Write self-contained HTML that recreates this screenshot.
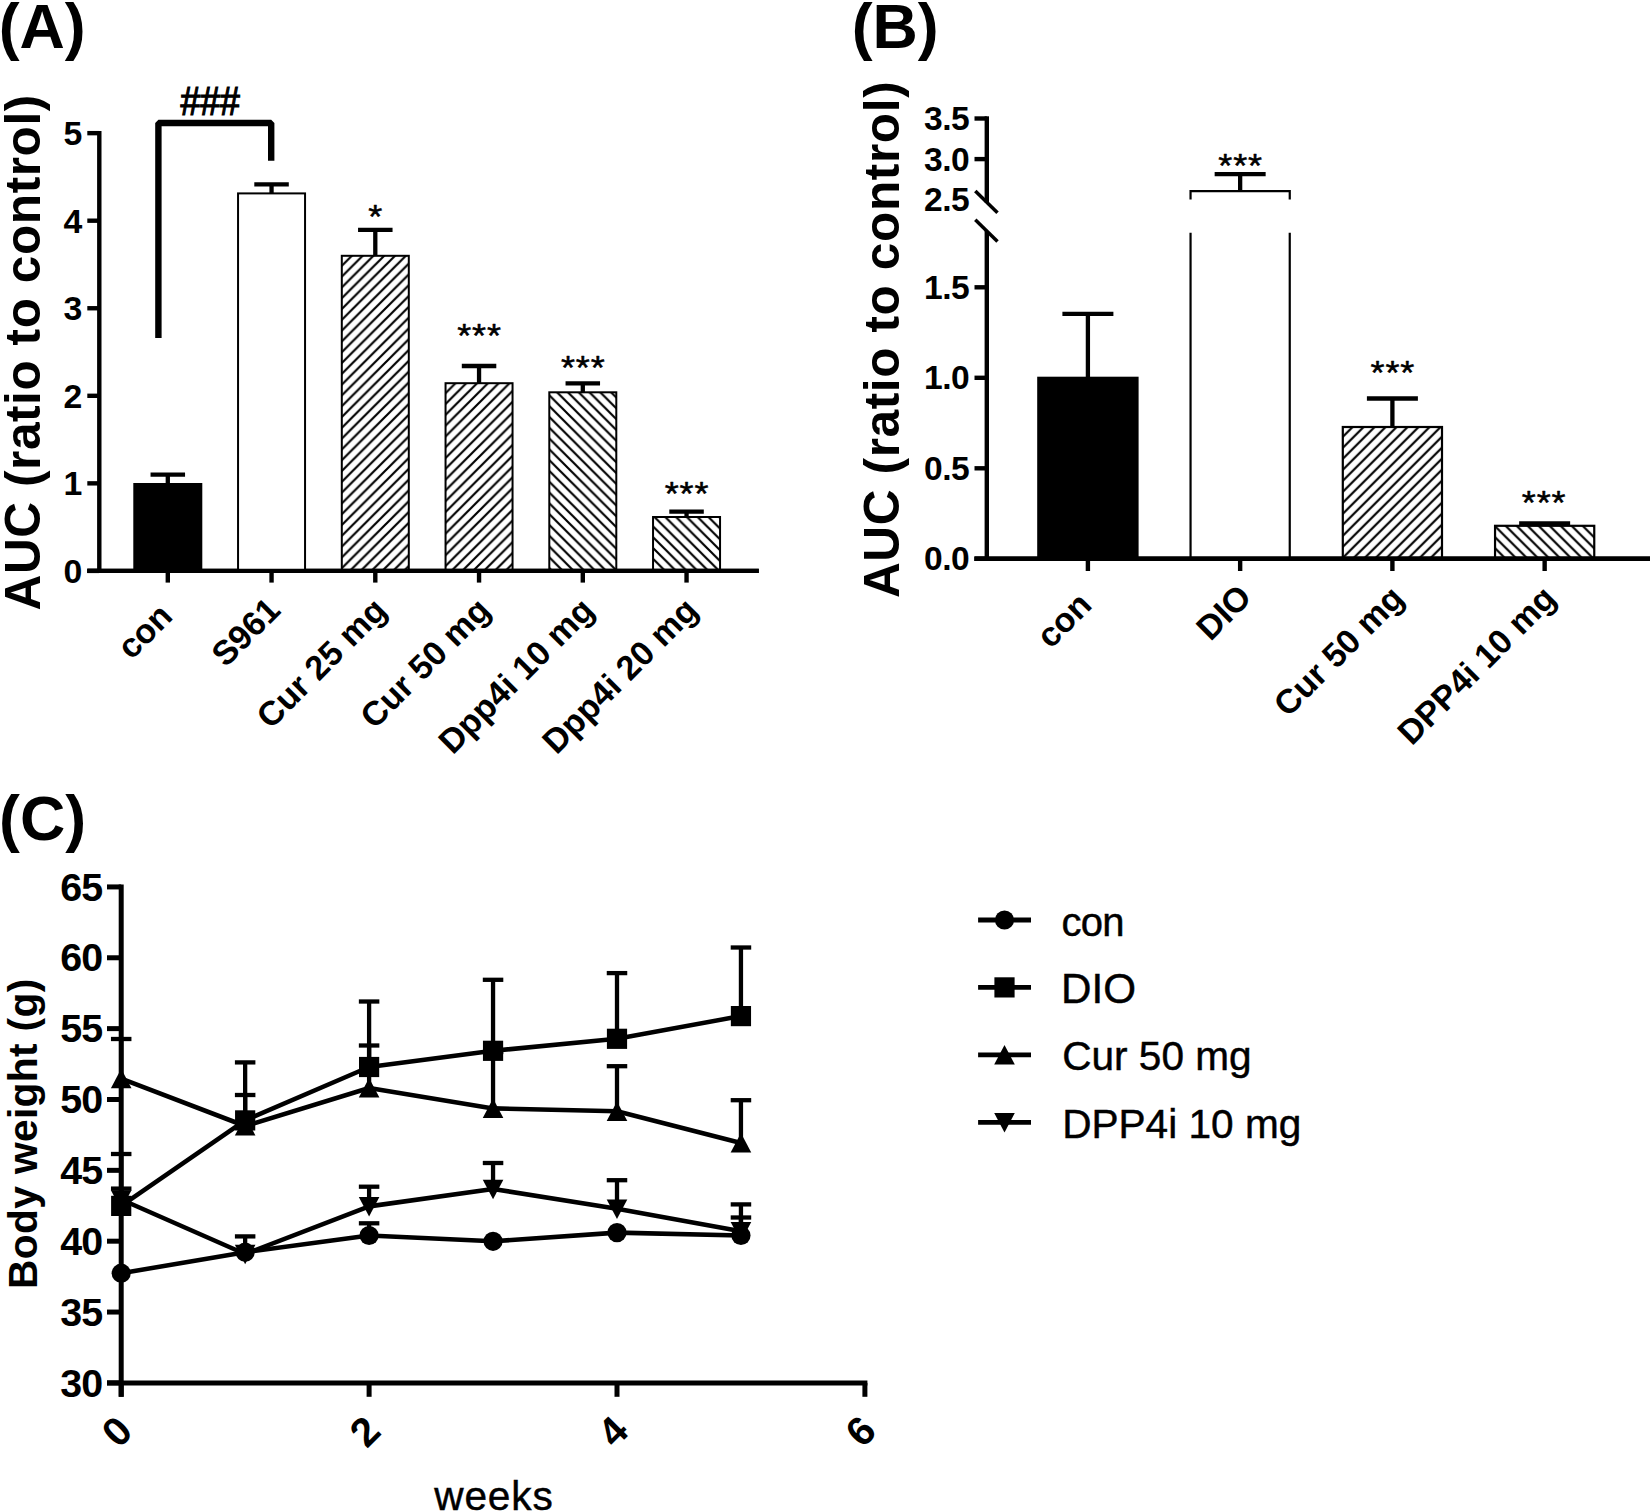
<!DOCTYPE html>
<html lang="en"><head><meta charset="utf-8"><title>Figure</title>
<style>html,body{margin:0;padding:0;background:#fff}svg{display:block}text{font-family:"Liberation Sans",sans-serif;fill:#000}.b{font-weight:bold}</style></head><body>
<svg width="1650" height="1512" viewBox="0 0 1650 1512">
<rect x="0" y="0" width="1650" height="1512" fill="#fff"/>
<text x="-1.30" y="47.90" font-size="62.7" text-anchor="start" class="b" >(A)</text>
<text x="851.70" y="47.90" font-size="62.7" text-anchor="start" class="b" >(B)</text>
<text x="-1.00" y="840.00" font-size="62.7" text-anchor="start" class="b" >(C)</text>
<text x="39.70" y="610.40" font-size="49.6" text-anchor="start" class="b" transform="rotate(-90 39.70 610.40)" letter-spacing="0.55">AUC (ratio to control)</text>
<line x1="99.30" y1="130.95" x2="99.30" y2="573.10" stroke="#000" stroke-width="4.4" />
<line x1="87.30" y1="570.90" x2="758.80" y2="570.90" stroke="#000" stroke-width="4.4" />
<line x1="87.30" y1="570.90" x2="99.30" y2="570.90" stroke="#000" stroke-width="4.4" />
<text x="82.30" y="582.70" font-size="33.8" text-anchor="end" class="b" >0</text>
<line x1="87.30" y1="483.35" x2="99.30" y2="483.35" stroke="#000" stroke-width="4.4" />
<text x="82.30" y="495.15" font-size="33.8" text-anchor="end" class="b" >1</text>
<line x1="87.30" y1="395.80" x2="99.30" y2="395.80" stroke="#000" stroke-width="4.4" />
<text x="82.30" y="407.60" font-size="33.8" text-anchor="end" class="b" >2</text>
<line x1="87.30" y1="308.25" x2="99.30" y2="308.25" stroke="#000" stroke-width="4.4" />
<text x="82.30" y="320.05" font-size="33.8" text-anchor="end" class="b" >3</text>
<line x1="87.30" y1="220.70" x2="99.30" y2="220.70" stroke="#000" stroke-width="4.4" />
<text x="82.30" y="232.50" font-size="33.8" text-anchor="end" class="b" >4</text>
<line x1="87.30" y1="133.15" x2="99.30" y2="133.15" stroke="#000" stroke-width="4.4" />
<text x="82.30" y="144.95" font-size="33.8" text-anchor="end" class="b" >5</text>
<line x1="167.80" y1="474.60" x2="167.80" y2="484.00" stroke="#000" stroke-width="4.3" />
<line x1="150.55" y1="474.60" x2="185.05" y2="474.60" stroke="#000" stroke-width="4.3" />
<rect x="134.30" y="484.00" width="67.00" height="86.90" fill="#000" stroke="#000" stroke-width="2.0"/>
<line x1="167.80" y1="570.90" x2="167.80" y2="582.60" stroke="#000" stroke-width="4.4" />
<line x1="271.55" y1="184.30" x2="271.55" y2="193.40" stroke="#000" stroke-width="4.3" />
<line x1="254.30" y1="184.30" x2="288.80" y2="184.30" stroke="#000" stroke-width="4.3" />
<rect x="238.05" y="193.40" width="67.00" height="377.50" fill="#fff" stroke="#000" stroke-width="2.0"/>
<line x1="271.55" y1="570.90" x2="271.55" y2="582.60" stroke="#000" stroke-width="4.4" />
<line x1="375.30" y1="229.90" x2="375.30" y2="255.80" stroke="#000" stroke-width="4.3" />
<line x1="358.05" y1="229.90" x2="392.55" y2="229.90" stroke="#000" stroke-width="4.3" />
<defs><pattern id="h1" patternUnits="userSpaceOnUse" width="10.8" height="10.8" x="342.80" y="264.80"><path d="M-5.4,5.4 L5.4,-5.4 M0,10.8 L10.8,0 M5.4,16.200000000000003 L16.200000000000003,5.4" stroke="#000" stroke-width="2.15" fill="none"/></pattern></defs>
<rect x="341.80" y="255.80" width="67.00" height="315.10" fill="url(#h1)" stroke="#000" stroke-width="2.0"/>
<line x1="375.30" y1="570.90" x2="375.30" y2="582.60" stroke="#000" stroke-width="4.4" />
<line x1="479.05" y1="366.00" x2="479.05" y2="383.20" stroke="#000" stroke-width="4.3" />
<line x1="461.80" y1="366.00" x2="496.30" y2="366.00" stroke="#000" stroke-width="4.3" />
<defs><pattern id="h2" patternUnits="userSpaceOnUse" width="10.8" height="10.8" x="446.55" y="392.20"><path d="M-5.4,5.4 L5.4,-5.4 M0,10.8 L10.8,0 M5.4,16.200000000000003 L16.200000000000003,5.4" stroke="#000" stroke-width="2.15" fill="none"/></pattern></defs>
<rect x="445.55" y="383.20" width="67.00" height="187.70" fill="url(#h2)" stroke="#000" stroke-width="2.0"/>
<line x1="479.05" y1="570.90" x2="479.05" y2="582.60" stroke="#000" stroke-width="4.4" />
<line x1="582.80" y1="383.30" x2="582.80" y2="392.30" stroke="#000" stroke-width="4.3" />
<line x1="565.55" y1="383.30" x2="600.05" y2="383.30" stroke="#000" stroke-width="4.3" />
<defs><pattern id="h3" patternUnits="userSpaceOnUse" width="10.8" height="10.8" x="550.30" y="396.30"><path d="M-5.4,5.4 L5.4,16.200000000000003 M0,0 L10.8,10.8 M5.4,-5.4 L16.200000000000003,5.4" stroke="#000" stroke-width="2.15" fill="none"/></pattern></defs>
<rect x="549.30" y="392.30" width="67.00" height="178.60" fill="url(#h3)" stroke="#000" stroke-width="2.0"/>
<line x1="582.80" y1="570.90" x2="582.80" y2="582.60" stroke="#000" stroke-width="4.4" />
<line x1="686.55" y1="511.70" x2="686.55" y2="517.00" stroke="#000" stroke-width="4.3" />
<line x1="669.30" y1="511.70" x2="703.80" y2="511.70" stroke="#000" stroke-width="4.3" />
<defs><pattern id="h4" patternUnits="userSpaceOnUse" width="10.8" height="10.8" x="654.05" y="527.40"><path d="M-5.4,5.4 L5.4,16.200000000000003 M0,0 L10.8,10.8 M5.4,-5.4 L16.200000000000003,5.4" stroke="#000" stroke-width="2.15" fill="none"/></pattern></defs>
<rect x="653.05" y="517.00" width="67.00" height="53.90" fill="url(#h4)" stroke="#000" stroke-width="2.0"/>
<line x1="686.55" y1="570.90" x2="686.55" y2="582.60" stroke="#000" stroke-width="4.4" />
<line x1="87.30" y1="570.90" x2="758.80" y2="570.90" stroke="#000" stroke-width="4.4" />
<text x="0" y="0" font-size="36" text-anchor="middle" transform="translate(375.30 228.30) scale(1 0.9)" stroke="#000" stroke-width="0.55" stroke-linejoin="round">*</text>
<text x="0" y="0" font-size="36" text-anchor="middle" transform="translate(479.55 346.60) scale(1 0.9)" letter-spacing="0.9" stroke="#000" stroke-width="0.55" stroke-linejoin="round">***</text>
<text x="0" y="0" font-size="36" text-anchor="middle" transform="translate(583.30 379.20) scale(1 0.9)" letter-spacing="0.9" stroke="#000" stroke-width="0.55" stroke-linejoin="round">***</text>
<text x="0" y="0" font-size="36" text-anchor="middle" transform="translate(687.05 505.00) scale(1 0.9)" letter-spacing="0.9" stroke="#000" stroke-width="0.55" stroke-linejoin="round">***</text>
<path d="M158.4,338 L158.4,123 L271.2,123 L271.2,160.7" fill="none" stroke="#000" stroke-width="6.4" stroke-linejoin="bevel"/>
<text x="0" y="0" font-size="35.6" text-anchor="middle" transform="translate(210.20 115.30) scale(1 1.12)" stroke="#000" stroke-width="1.1">###</text>
<text x="174.30" y="618.00" font-size="34.1" text-anchor="end" class="b" transform="rotate(-45 174.30 618.00)" id="la0">con</text>
<text x="282.05" y="612.00" font-size="34.1" text-anchor="end" class="b" transform="rotate(-45 282.05 612.00)" id="la1">S961</text>
<text x="388.50" y="612.30" font-size="34.1" text-anchor="end" class="b" transform="rotate(-45 388.50 612.30)" id="la2">Cur 25 mg</text>
<text x="492.25" y="612.30" font-size="34.1" text-anchor="end" class="b" transform="rotate(-45 492.25 612.30)" id="la3">Cur 50 mg</text>
<text x="596.00" y="612.30" font-size="34.1" text-anchor="end" class="b" transform="rotate(-45 596.00 612.30)" id="la4">Dpp4i 10 mg</text>
<text x="699.75" y="612.30" font-size="34.1" text-anchor="end" class="b" transform="rotate(-45 699.75 612.30)" id="la5">Dpp4i 20 mg</text>
<text x="899.30" y="598.10" font-size="49.6" text-anchor="start" class="b" transform="rotate(-90 899.30 598.10)" letter-spacing="0.6">AUC (ratio to control)</text>
<line x1="986.80" y1="231.00" x2="986.80" y2="561.00" stroke="#000" stroke-width="4.4" />
<line x1="986.80" y1="116.30" x2="986.80" y2="202.40" stroke="#000" stroke-width="4.4" />
<line x1="975.30" y1="191.00" x2="997.50" y2="212.70" stroke="#000" stroke-width="3.5" />
<line x1="975.30" y1="219.80" x2="997.50" y2="241.50" stroke="#000" stroke-width="3.5" />
<line x1="974.50" y1="558.80" x2="1650.00" y2="558.80" stroke="#000" stroke-width="4.4" />
<line x1="974.50" y1="558.80" x2="986.80" y2="558.80" stroke="#000" stroke-width="4.4" />
<text x="969.40" y="570.20" font-size="33.6" text-anchor="end" class="b" letter-spacing="-0.4">0.0</text>
<line x1="974.50" y1="468.30" x2="986.80" y2="468.30" stroke="#000" stroke-width="4.4" />
<text x="969.40" y="479.70" font-size="33.6" text-anchor="end" class="b" letter-spacing="-0.4">0.5</text>
<line x1="974.50" y1="377.80" x2="986.80" y2="377.80" stroke="#000" stroke-width="4.4" />
<text x="969.40" y="389.20" font-size="33.6" text-anchor="end" class="b" letter-spacing="-0.4">1.0</text>
<line x1="974.50" y1="287.30" x2="986.80" y2="287.30" stroke="#000" stroke-width="4.4" />
<text x="969.40" y="298.70" font-size="33.6" text-anchor="end" class="b" letter-spacing="-0.4">1.5</text>
<text x="969.40" y="211.10" font-size="33.6" text-anchor="end" class="b" letter-spacing="-0.4">2.5</text>
<line x1="974.50" y1="159.10" x2="986.80" y2="159.10" stroke="#000" stroke-width="4.4" />
<text x="969.40" y="170.50" font-size="33.6" text-anchor="end" class="b" letter-spacing="-0.4">3.0</text>
<line x1="974.50" y1="118.50" x2="986.80" y2="118.50" stroke="#000" stroke-width="4.4" />
<text x="969.40" y="129.90" font-size="33.6" text-anchor="end" class="b" letter-spacing="-0.4">3.5</text>
<line x1="1087.90" y1="313.90" x2="1087.90" y2="378.00" stroke="#000" stroke-width="4.3" />
<line x1="1062.40" y1="313.90" x2="1113.40" y2="313.90" stroke="#000" stroke-width="4.3" />
<rect x="1038.30" y="377.80" width="99.20" height="181.00" fill="#000" stroke="#000" stroke-width="2.2"/>
<line x1="1240.15" y1="174.20" x2="1240.15" y2="191.00" stroke="#000" stroke-width="4.3" />
<line x1="1214.65" y1="174.20" x2="1265.65" y2="174.20" stroke="#000" stroke-width="4.3" />
<path d="M1190.55,199.6 V191.2 H1289.75 V199.6" fill="none" stroke="#000" stroke-width="2.2"/>
<line x1="1190.55" y1="232.70" x2="1190.55" y2="558.80" stroke="#000" stroke-width="2.2" />
<line x1="1289.75" y1="232.70" x2="1289.75" y2="558.80" stroke="#000" stroke-width="2.2" />
<line x1="1392.40" y1="398.50" x2="1392.40" y2="427.00" stroke="#000" stroke-width="4.3" />
<line x1="1366.90" y1="398.50" x2="1417.90" y2="398.50" stroke="#000" stroke-width="4.3" />
<defs><pattern id="h5" patternUnits="userSpaceOnUse" width="11.0" height="11.0" x="1343.90" y="435.70"><path d="M-5.5,5.5 L5.5,-5.5 M0,11.0 L11.0,0 M5.5,16.5 L16.5,5.5" stroke="#000" stroke-width="2.15" fill="none"/></pattern></defs>
<rect x="1342.80" y="427.00" width="99.20" height="131.80" fill="url(#h5)" stroke="#000" stroke-width="2.2"/>
<line x1="1544.65" y1="523.40" x2="1544.65" y2="526.00" stroke="#000" stroke-width="4.3" />
<line x1="1519.15" y1="523.40" x2="1570.15" y2="523.40" stroke="#000" stroke-width="4.3" />
<defs><pattern id="h6" patternUnits="userSpaceOnUse" width="11.0" height="11.0" x="1496.15" y="527.30"><path d="M-5.5,5.5 L5.5,16.5 M0,0 L11.0,11.0 M5.5,-5.5 L16.5,5.5" stroke="#000" stroke-width="2.15" fill="none"/></pattern></defs>
<rect x="1495.05" y="525.80" width="99.20" height="33.00" fill="url(#h6)" stroke="#000" stroke-width="2.2"/>
<line x1="1087.90" y1="558.80" x2="1087.90" y2="571.00" stroke="#000" stroke-width="4.4" />
<line x1="1240.15" y1="558.80" x2="1240.15" y2="571.00" stroke="#000" stroke-width="4.4" />
<line x1="1392.40" y1="558.80" x2="1392.40" y2="571.00" stroke="#000" stroke-width="4.4" />
<line x1="1544.65" y1="558.80" x2="1544.65" y2="571.00" stroke="#000" stroke-width="4.4" />
<line x1="974.50" y1="558.80" x2="1650.00" y2="558.80" stroke="#000" stroke-width="4.4" />
<text x="0" y="0" font-size="36" text-anchor="middle" transform="translate(1240.65 177.00) scale(1 0.9)" letter-spacing="0.9" stroke="#000" stroke-width="0.55" stroke-linejoin="round">***</text>
<text x="0" y="0" font-size="36" text-anchor="middle" transform="translate(1392.90 384.40) scale(1 0.9)" letter-spacing="0.9" stroke="#000" stroke-width="0.55" stroke-linejoin="round">***</text>
<text x="0" y="0" font-size="36" text-anchor="middle" transform="translate(1544.15 514.30) scale(1 0.9)" letter-spacing="0.9" stroke="#000" stroke-width="0.55" stroke-linejoin="round">***</text>
<text x="1093.50" y="606.90" font-size="34.1" text-anchor="end" class="b" transform="rotate(-45 1093.50 606.90)" id="lb0">con</text>
<text x="1253.35" y="599.10" font-size="34.1" text-anchor="end" class="b" transform="rotate(-45 1253.35 599.10)" id="lb1">DIO</text>
<text x="1405.80" y="600.40" font-size="34.1" text-anchor="end" class="b" transform="rotate(-45 1405.80 600.40)" id="lb2">Cur 50 mg</text>
<text x="1557.85" y="600.40" font-size="34.1" text-anchor="end" class="b" transform="rotate(-45 1557.85 600.40)" id="lb3">DPP4i 10 mg</text>
<text x="36.70" y="1288.90" font-size="40.8" text-anchor="start" class="b" transform="rotate(-90 36.70 1288.90)" letter-spacing="0.3">Body weight (g)</text>
<line x1="121.20" y1="884.40" x2="121.20" y2="1396.80" stroke="#000" stroke-width="5.0" />
<line x1="107.00" y1="1382.90" x2="867.40" y2="1382.90" stroke="#000" stroke-width="5.0" />
<line x1="107.00" y1="1382.90" x2="121.20" y2="1382.90" stroke="#000" stroke-width="5.0" />
<text x="102.40" y="1396.50" font-size="39.4" text-anchor="end" class="b" letter-spacing="-0.8">30</text>
<line x1="107.00" y1="1312.05" x2="121.20" y2="1312.05" stroke="#000" stroke-width="5.0" />
<text x="102.40" y="1325.64" font-size="39.4" text-anchor="end" class="b" letter-spacing="-0.8">35</text>
<line x1="107.00" y1="1241.19" x2="121.20" y2="1241.19" stroke="#000" stroke-width="5.0" />
<text x="102.40" y="1254.79" font-size="39.4" text-anchor="end" class="b" letter-spacing="-0.8">40</text>
<line x1="107.00" y1="1170.34" x2="121.20" y2="1170.34" stroke="#000" stroke-width="5.0" />
<text x="102.40" y="1183.93" font-size="39.4" text-anchor="end" class="b" letter-spacing="-0.8">45</text>
<line x1="107.00" y1="1099.48" x2="121.20" y2="1099.48" stroke="#000" stroke-width="5.0" />
<text x="102.40" y="1113.08" font-size="39.4" text-anchor="end" class="b" letter-spacing="-0.8">50</text>
<line x1="107.00" y1="1028.62" x2="121.20" y2="1028.62" stroke="#000" stroke-width="5.0" />
<text x="102.40" y="1042.22" font-size="39.4" text-anchor="end" class="b" letter-spacing="-0.8">55</text>
<line x1="107.00" y1="957.77" x2="121.20" y2="957.77" stroke="#000" stroke-width="5.0" />
<text x="102.40" y="971.37" font-size="39.4" text-anchor="end" class="b" letter-spacing="-0.8">60</text>
<line x1="107.00" y1="886.92" x2="121.20" y2="886.92" stroke="#000" stroke-width="5.0" />
<text x="102.40" y="900.52" font-size="39.4" text-anchor="end" class="b" letter-spacing="-0.8">65</text>
<line x1="121.20" y1="1382.90" x2="121.20" y2="1396.80" stroke="#000" stroke-width="5.0" />
<text x="134.80" y="1433.20" font-size="40.5" text-anchor="end" class="b" transform="rotate(-45 134.80 1433.20)" id="lc0">0</text>
<line x1="369.10" y1="1382.90" x2="369.10" y2="1396.80" stroke="#000" stroke-width="5.0" />
<text x="382.70" y="1433.20" font-size="40.5" text-anchor="end" class="b" transform="rotate(-45 382.70 1433.20)" id="lc1">2</text>
<line x1="617.00" y1="1382.90" x2="617.00" y2="1396.80" stroke="#000" stroke-width="5.0" />
<text x="630.60" y="1433.20" font-size="40.5" text-anchor="end" class="b" transform="rotate(-45 630.60 1433.20)" id="lc2">4</text>
<line x1="864.90" y1="1382.90" x2="864.90" y2="1396.80" stroke="#000" stroke-width="5.0" />
<text x="878.50" y="1433.20" font-size="40.5" text-anchor="end" class="b" transform="rotate(-45 878.50 1433.20)" id="lc3">6</text>
<text x="434.30" y="1509.60" font-size="40.6" text-anchor="start" letter-spacing="0.85" stroke="#000" stroke-width="0.45">weeks</text>
<line x1="245.15" y1="1236.40" x2="245.15" y2="1252.20" stroke="#000" stroke-width="4.3" />
<line x1="234.90" y1="1236.40" x2="255.40" y2="1236.40" stroke="#000" stroke-width="4.3" />
<line x1="369.10" y1="1223.30" x2="369.10" y2="1235.50" stroke="#000" stroke-width="4.3" />
<line x1="358.85" y1="1223.30" x2="379.35" y2="1223.30" stroke="#000" stroke-width="4.3" />
<line x1="740.95" y1="1217.50" x2="740.95" y2="1235.50" stroke="#000" stroke-width="4.3" />
<line x1="730.70" y1="1217.50" x2="751.20" y2="1217.50" stroke="#000" stroke-width="4.3" />
<polyline points="121.20,1273.20 245.15,1252.20 369.10,1235.50 493.05,1241.30 617.00,1232.60 740.95,1235.50" fill="none" stroke="#000" stroke-width="4.6" stroke-linejoin="round"/>
<circle cx="121.20" cy="1273.20" r="9.6" fill="#000"/>
<circle cx="245.15" cy="1252.20" r="9.6" fill="#000"/>
<circle cx="369.10" cy="1235.50" r="9.6" fill="#000"/>
<circle cx="493.05" cy="1241.30" r="9.6" fill="#000"/>
<circle cx="617.00" cy="1232.60" r="9.6" fill="#000"/>
<circle cx="740.95" cy="1235.50" r="9.6" fill="#000"/>
<line x1="121.20" y1="1154.00" x2="121.20" y2="1205.90" stroke="#000" stroke-width="4.3" />
<line x1="110.95" y1="1154.00" x2="131.45" y2="1154.00" stroke="#000" stroke-width="4.3" />
<line x1="245.15" y1="1062.40" x2="245.15" y2="1120.40" stroke="#000" stroke-width="4.3" />
<line x1="234.90" y1="1062.40" x2="255.40" y2="1062.40" stroke="#000" stroke-width="4.3" />
<line x1="369.10" y1="1001.50" x2="369.10" y2="1067.00" stroke="#000" stroke-width="4.3" />
<line x1="358.85" y1="1001.50" x2="379.35" y2="1001.50" stroke="#000" stroke-width="4.3" />
<line x1="493.05" y1="979.80" x2="493.05" y2="1050.80" stroke="#000" stroke-width="4.3" />
<line x1="482.80" y1="979.80" x2="503.30" y2="979.80" stroke="#000" stroke-width="4.3" />
<line x1="617.00" y1="973.10" x2="617.00" y2="1038.80" stroke="#000" stroke-width="4.3" />
<line x1="606.75" y1="973.10" x2="627.25" y2="973.10" stroke="#000" stroke-width="4.3" />
<line x1="740.95" y1="947.50" x2="740.95" y2="1016.10" stroke="#000" stroke-width="4.3" />
<line x1="730.70" y1="947.50" x2="751.20" y2="947.50" stroke="#000" stroke-width="4.3" />
<polyline points="121.20,1205.90 245.15,1120.40 369.10,1067.00 493.05,1050.80 617.00,1038.80 740.95,1016.10" fill="none" stroke="#000" stroke-width="4.6" stroke-linejoin="round"/>
<rect x="111.10" y="1195.80" width="20.2" height="20.2" fill="#000"/>
<rect x="235.05" y="1110.30" width="20.2" height="20.2" fill="#000"/>
<rect x="359.00" y="1056.90" width="20.2" height="20.2" fill="#000"/>
<rect x="482.95" y="1040.70" width="20.2" height="20.2" fill="#000"/>
<rect x="606.90" y="1028.70" width="20.2" height="20.2" fill="#000"/>
<rect x="730.85" y="1006.00" width="20.2" height="20.2" fill="#000"/>
<line x1="121.20" y1="1039.00" x2="121.20" y2="1078.60" stroke="#000" stroke-width="4.3" />
<line x1="110.95" y1="1039.00" x2="131.45" y2="1039.00" stroke="#000" stroke-width="4.3" />
<line x1="245.15" y1="1095.00" x2="245.15" y2="1126.00" stroke="#000" stroke-width="4.3" />
<line x1="234.90" y1="1095.00" x2="255.40" y2="1095.00" stroke="#000" stroke-width="4.3" />
<line x1="369.10" y1="1045.50" x2="369.10" y2="1088.00" stroke="#000" stroke-width="4.3" />
<line x1="358.85" y1="1045.50" x2="379.35" y2="1045.50" stroke="#000" stroke-width="4.3" />
<line x1="493.05" y1="1052.00" x2="493.05" y2="1108.40" stroke="#000" stroke-width="4.3" />
<line x1="482.80" y1="1052.00" x2="503.30" y2="1052.00" stroke="#000" stroke-width="4.3" />
<line x1="617.00" y1="1066.20" x2="617.00" y2="1111.30" stroke="#000" stroke-width="4.3" />
<line x1="606.75" y1="1066.20" x2="627.25" y2="1066.20" stroke="#000" stroke-width="4.3" />
<line x1="740.95" y1="1100.20" x2="740.95" y2="1143.00" stroke="#000" stroke-width="4.3" />
<line x1="730.70" y1="1100.20" x2="751.20" y2="1100.20" stroke="#000" stroke-width="4.3" />
<polyline points="121.20,1078.60 245.15,1126.00 369.10,1088.00 493.05,1108.40 617.00,1111.30 740.95,1143.00" fill="none" stroke="#000" stroke-width="4.6" stroke-linejoin="round"/>
<path d="M110.90,1088.20 L131.50,1088.20 L121.20,1068.70 Z" fill="#000"/>
<path d="M234.85,1135.60 L255.45,1135.60 L245.15,1116.10 Z" fill="#000"/>
<path d="M358.80,1097.60 L379.40,1097.60 L369.10,1078.10 Z" fill="#000"/>
<path d="M482.75,1118.00 L503.35,1118.00 L493.05,1098.50 Z" fill="#000"/>
<path d="M606.70,1120.90 L627.30,1120.90 L617.00,1101.40 Z" fill="#000"/>
<path d="M730.65,1152.60 L751.25,1152.60 L740.95,1133.10 Z" fill="#000"/>
<line x1="121.20" y1="1188.60" x2="121.20" y2="1199.50" stroke="#000" stroke-width="4.3" />
<line x1="110.95" y1="1188.60" x2="131.45" y2="1188.60" stroke="#000" stroke-width="4.3" />
<line x1="369.10" y1="1186.70" x2="369.10" y2="1206.40" stroke="#000" stroke-width="4.3" />
<line x1="358.85" y1="1186.70" x2="379.35" y2="1186.70" stroke="#000" stroke-width="4.3" />
<line x1="493.05" y1="1163.00" x2="493.05" y2="1189.00" stroke="#000" stroke-width="4.3" />
<line x1="482.80" y1="1163.00" x2="503.30" y2="1163.00" stroke="#000" stroke-width="4.3" />
<line x1="617.00" y1="1180.20" x2="617.00" y2="1208.70" stroke="#000" stroke-width="4.3" />
<line x1="606.75" y1="1180.20" x2="627.25" y2="1180.20" stroke="#000" stroke-width="4.3" />
<line x1="740.95" y1="1204.40" x2="740.95" y2="1231.30" stroke="#000" stroke-width="4.3" />
<line x1="730.70" y1="1204.40" x2="751.20" y2="1204.40" stroke="#000" stroke-width="4.3" />
<polyline points="121.20,1199.50 245.15,1254.00 369.10,1206.40 493.05,1189.00 617.00,1208.70 740.95,1231.30" fill="none" stroke="#000" stroke-width="4.6" stroke-linejoin="round"/>
<path d="M110.90,1190.20 L131.50,1190.20 L121.20,1209.70 Z" fill="#000"/>
<path d="M234.85,1244.70 L255.45,1244.70 L245.15,1264.20 Z" fill="#000"/>
<path d="M358.80,1197.10 L379.40,1197.10 L369.10,1216.60 Z" fill="#000"/>
<path d="M482.75,1179.70 L503.35,1179.70 L493.05,1199.20 Z" fill="#000"/>
<path d="M606.70,1199.40 L627.30,1199.40 L617.00,1218.90 Z" fill="#000"/>
<path d="M730.65,1222.00 L751.25,1222.00 L740.95,1241.50 Z" fill="#000"/>
<line x1="978.10" y1="920.00" x2="1031.00" y2="920.00" stroke="#000" stroke-width="4.8" />
<circle cx="1004.50" cy="920.00" r="9.6" fill="#000"/>
<text x="1061.40" y="936.00" font-size="40.0" text-anchor="start" stroke="#000" stroke-width="0.45" letter-spacing="-0.7">con</text>
<line x1="978.10" y1="987.40" x2="1031.00" y2="987.40" stroke="#000" stroke-width="4.8" />
<rect x="994.40" y="977.30" width="20.2" height="20.2" fill="#000"/>
<text x="1061.00" y="1002.60" font-size="42.2" text-anchor="start" stroke="#000" stroke-width="0.45">DIO</text>
<line x1="978.10" y1="1054.80" x2="1031.00" y2="1054.80" stroke="#000" stroke-width="4.8" />
<path d="M994.20,1064.40 L1014.80,1064.40 L1004.50,1044.90 Z" fill="#000"/>
<text x="1062.20" y="1070.00" font-size="40.6" text-anchor="start" stroke="#000" stroke-width="0.45">Cur 50 mg</text>
<line x1="978.10" y1="1122.30" x2="1031.00" y2="1122.30" stroke="#000" stroke-width="4.8" />
<path d="M994.20,1113.00 L1014.80,1113.00 L1004.50,1132.50 Z" fill="#000"/>
<text x="1062.20" y="1137.50" font-size="40.6" text-anchor="start" stroke="#000" stroke-width="0.45">DPP4i 10 mg</text>
</svg></body></html>
